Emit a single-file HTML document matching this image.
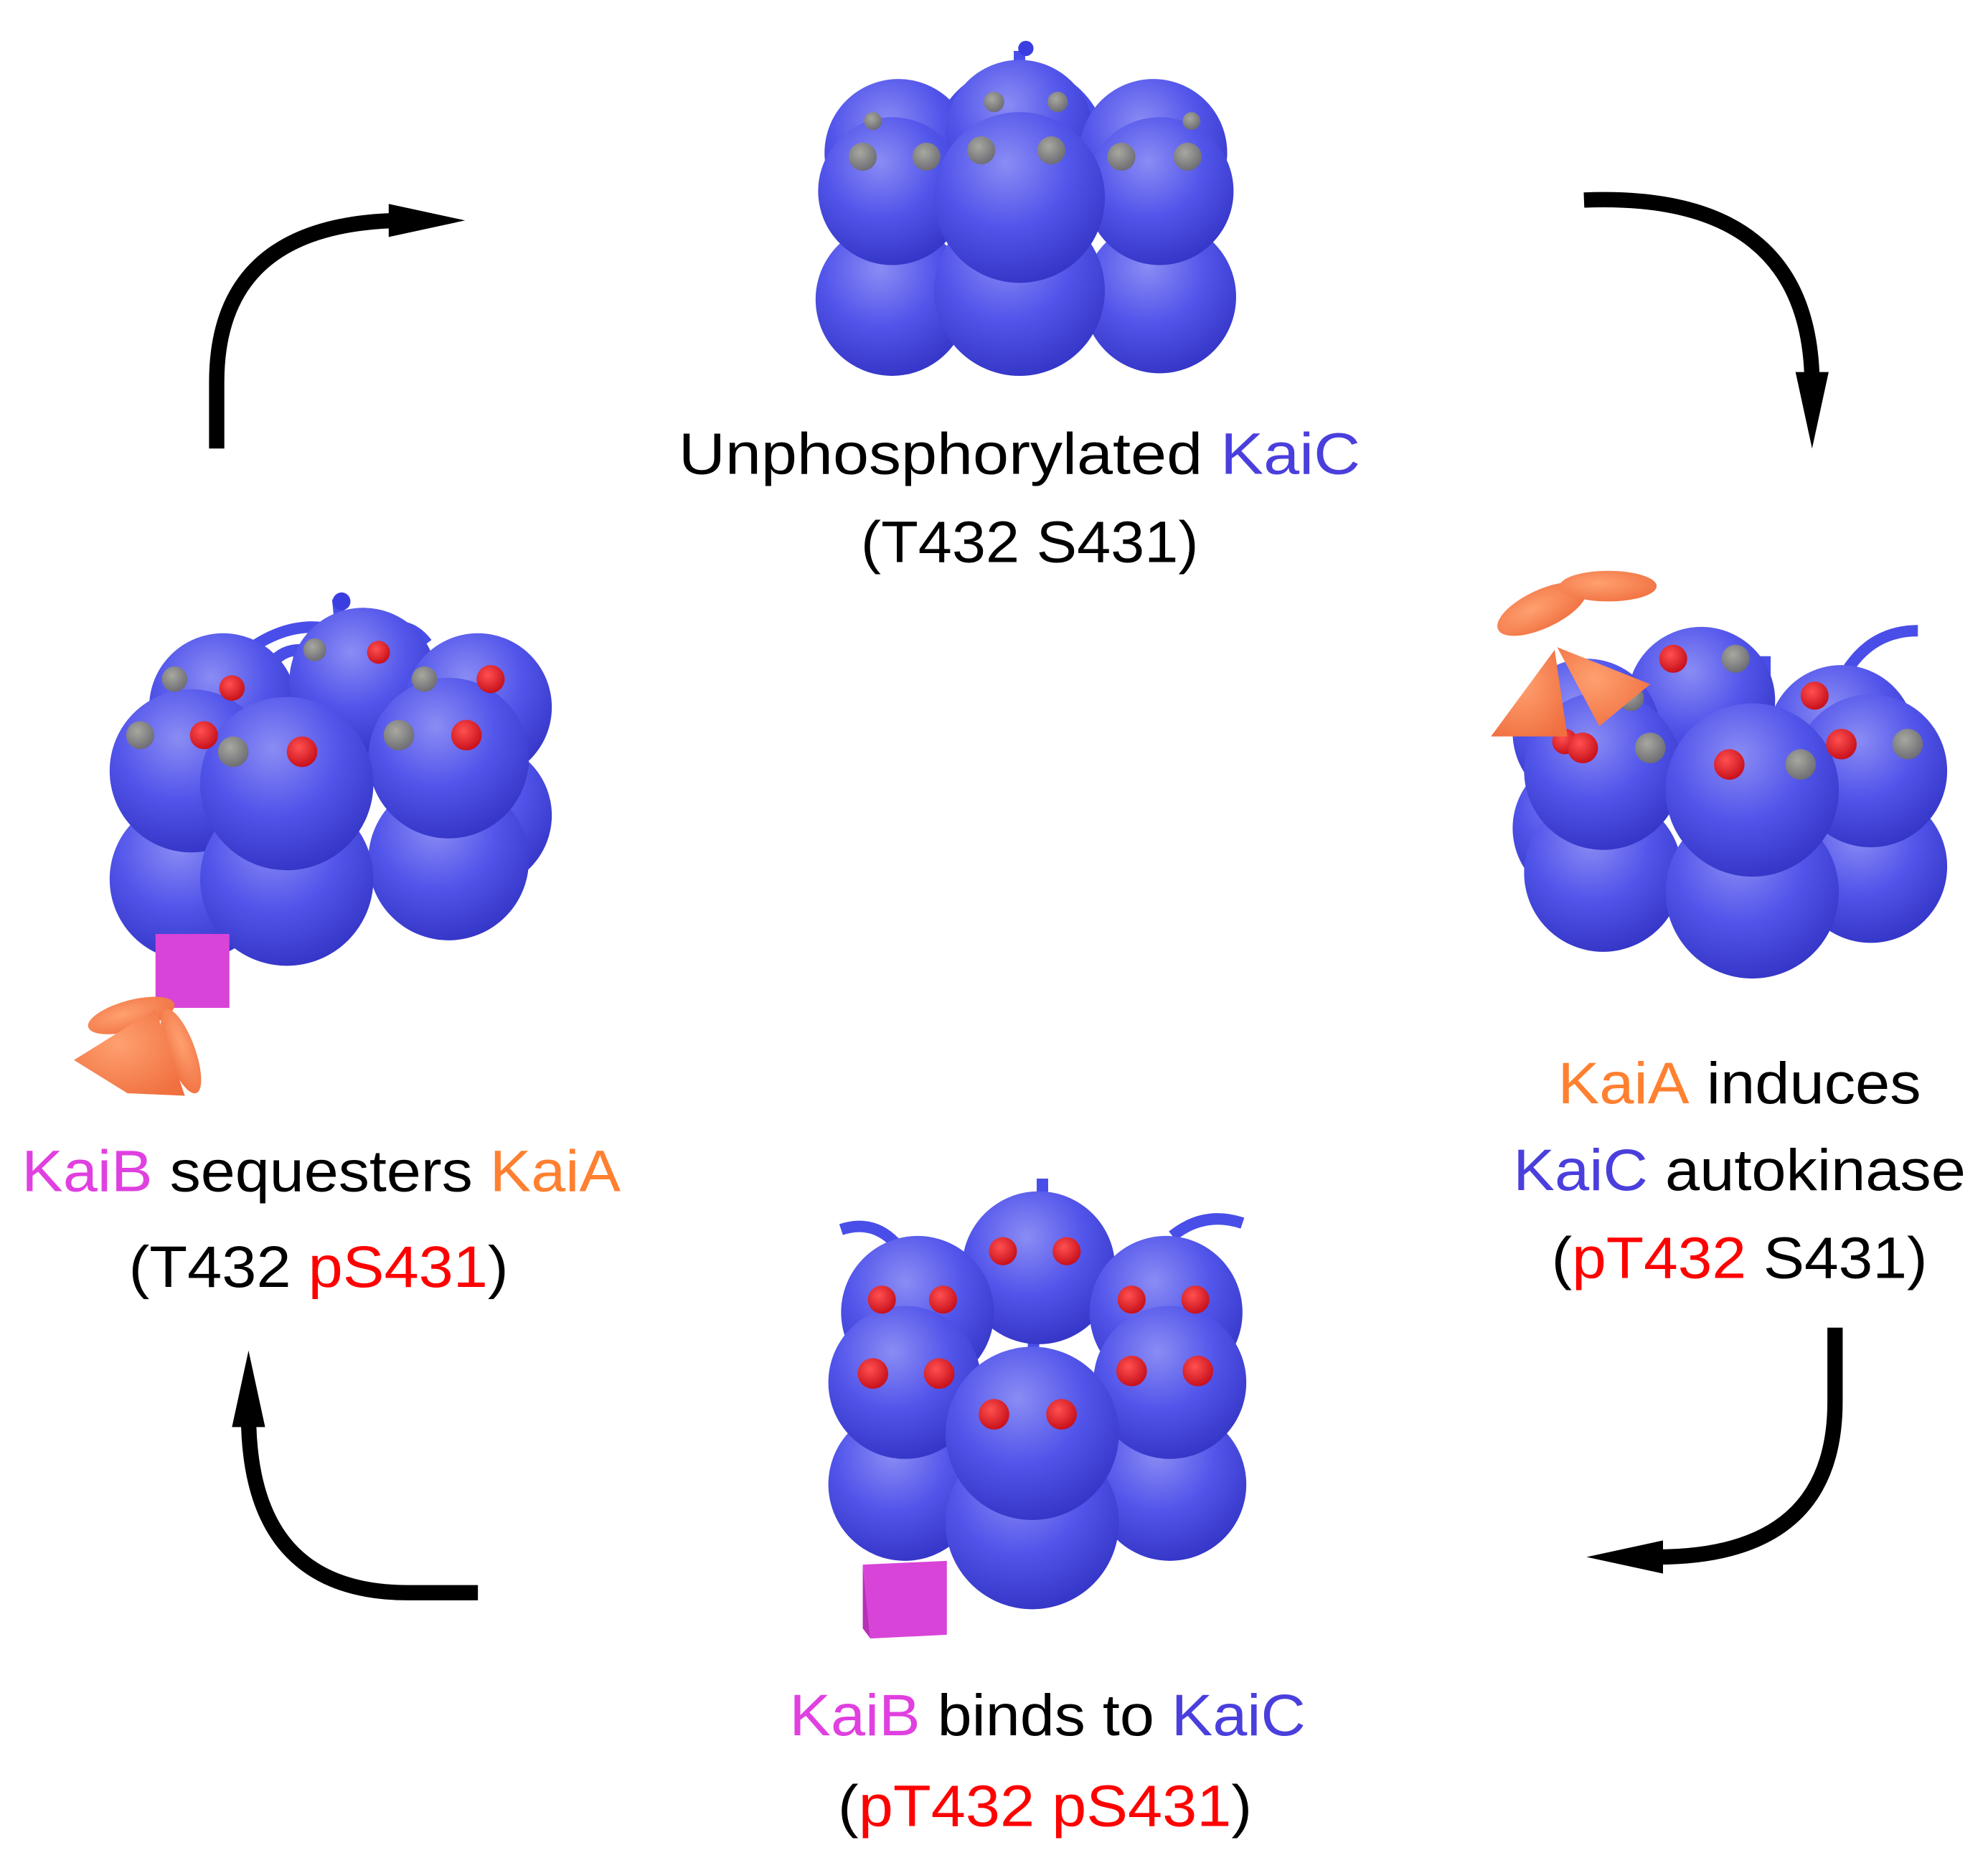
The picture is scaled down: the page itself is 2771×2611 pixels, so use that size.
<!DOCTYPE html>
<html><head><meta charset="utf-8"><style>html,body{margin:0;padding:0;background:#fff}svg{display:block}</style></head>
<body>
<svg width="2771" height="2611" viewBox="0 0 1560 1470" xmlns="http://www.w3.org/2000/svg">
<defs>
<radialGradient id="b" cx="0.42" cy="0.3" r="0.75">
<stop offset="0" stop-color="#8a8cf4"/><stop offset="0.5" stop-color="#5255ea"/><stop offset="1" stop-color="#3233c4"/>
</radialGradient>
<radialGradient id="r" cx="0.4" cy="0.35" r="0.7"><stop offset="0" stop-color="#ff5050"/><stop offset="1" stop-color="#c40c18"/></radialGradient>
<radialGradient id="g" cx="0.4" cy="0.35" r="0.7"><stop offset="0" stop-color="#a8a8a0"/><stop offset="1" stop-color="#6a6a72"/></radialGradient>
<radialGradient id="o" cx="0.4" cy="0.4" r="0.7"><stop offset="0" stop-color="#ffa070"/><stop offset="1" stop-color="#f07040"/></radialGradient>
</defs>
<g font-family="'Liberation Sans', sans-serif" font-size="46" text-anchor="middle">
<text x="800" y="372" textLength="535" lengthAdjust="spacingAndGlyphs">Unphosphorylated <tspan fill="#4a3fdc">KaiC</tspan></text>
<text x="808" y="441" textLength="265" lengthAdjust="spacingAndGlyphs">(T432 S431)</text>
<text x="1365" y="866" textLength="285" lengthAdjust="spacingAndGlyphs"><tspan fill="#ff8030">KaiA</tspan> induces</text>
<text x="1365" y="934" textLength="355" lengthAdjust="spacingAndGlyphs"><tspan fill="#4a3fdc">KaiC</tspan> autokinase</text>
<text x="1365" y="1003" textLength="295" lengthAdjust="spacingAndGlyphs">(<tspan fill="#ff0000">pT432</tspan> S431)</text>
<text x="252" y="935" textLength="470" lengthAdjust="spacingAndGlyphs"><tspan fill="#e040e0">KaiB</tspan> sequesters <tspan fill="#ff8030">KaiA</tspan></text>
<text x="250" y="1010" textLength="298" lengthAdjust="spacingAndGlyphs">(T432 <tspan fill="#ff0000">pS431</tspan>)</text>
<text x="822" y="1362" textLength="405" lengthAdjust="spacingAndGlyphs"><tspan fill="#e040e0">KaiB</tspan> binds to <tspan fill="#4a3fdc">KaiC</tspan></text>
<text x="820" y="1433" textLength="325" lengthAdjust="spacingAndGlyphs">(<tspan fill="#ff0000">pT432 pS431</tspan>)</text>
</g>
<!-- arrows -->
<g fill="none" stroke="#000" stroke-width="12">
<path d="M170 352 L170 300 Q170 175 315 173"/>
<path d="M1243 157 Q1420 150 1422 300"/>
<path d="M1440 1042 L1440 1100 Q1440 1222 1300 1222"/>
<path d="M375 1250 L320 1250 Q195 1250 195 1110"/>
</g>
<g fill="#000">
<polygon points="365,173 305,160 305,186"/>
<polygon points="1422,352 1409,292 1435,292"/>
<polygon points="1245,1222 1305,1209 1305,1235"/>
<polygon points="195,1060 182,1120 208,1120"/>
</g>
<!-- top cluster -->
<g fill="url(#b)">
<path d="M800 40 L800 90" stroke="#4a4ee8" stroke-width="9" fill="none"/>
<circle cx="805" cy="38" r="6" fill="#3a3ee0"/>
<path d="M740 95 Q760 55 800 60 Q840 55 860 95" stroke="#4a4ee8" stroke-width="9" fill="none"/>
<circle cx="705" cy="120" r="58"/><circle cx="800" cy="105" r="58"/><circle cx="905" cy="120" r="58"/>
<circle cx="700" cy="235" r="60"/><circle cx="910" cy="233" r="60"/>
<circle cx="700" cy="150" r="58"/><circle cx="910" cy="150" r="58"/>
<circle cx="800" cy="228" r="67"/><circle cx="800" cy="155" r="67"/>
</g>
<g fill="url(#g)"><circle cx="677" cy="123" r="11"/><circle cx="727" cy="123" r="11"/><circle cx="770" cy="118" r="11"/><circle cx="825" cy="118" r="11"/><circle cx="880" cy="123" r="11"/><circle cx="932" cy="123" r="11"/><circle cx="780" cy="80" r="8"/><circle cx="830" cy="80" r="8"/><circle cx="685" cy="95" r="7"/><circle cx="935" cy="95" r="7"/></g>
<!-- right cluster -->
<g fill="url(#b)">
<path d="M1290 545 Q1300 505 1335 505 M1385 515 L1385 560 M1440 545 Q1460 495 1505 495" stroke="#4a4ee8" stroke-width="9" fill="none"/>
<circle cx="1335" cy="550" r="58"/><circle cx="1245" cy="575" r="58"/><circle cx="1445" cy="580" r="58"/>
<circle cx="1245" cy="650" r="58"/>
<circle cx="1468" cy="680" r="60"/><circle cx="1468" cy="605" r="60"/>
<circle cx="1258" cy="685" r="62"/><circle cx="1258" cy="605" r="62"/>
<circle cx="1375" cy="700" r="68"/><circle cx="1375" cy="620" r="68"/>
</g>
<g><circle cx="1313" cy="517" r="11" fill="url(#r)"/><circle cx="1362" cy="517" r="11" fill="url(#g)"/><circle cx="1424" cy="546" r="11" fill="url(#r)"/><circle cx="1228" cy="582" r="10" fill="url(#r)"/><circle cx="1280" cy="548" r="10" fill="url(#g)"/>
<circle cx="1242" cy="587" r="12" fill="url(#r)"/><circle cx="1295" cy="587" r="12" fill="url(#g)"/><circle cx="1357" cy="600" r="12" fill="url(#r)"/><circle cx="1413" cy="600" r="12" fill="url(#g)"/><circle cx="1445" cy="584" r="12" fill="url(#r)"/><circle cx="1497" cy="584" r="12" fill="url(#g)"/></g>
<g fill="url(#o)">
<ellipse cx="1210" cy="478" rx="38" ry="15" transform="rotate(-25 1210 478)"/>
<ellipse cx="1262" cy="460" rx="38" ry="12"/>
<polygon points="1170,578 1230,578 1220,510"/>
<polygon points="1222,508 1295,537 1255,570"/>
</g>
<!-- bottom cluster -->
<g fill="url(#b)">
<path d="M818 925 L818 950 M660 965 Q690 955 710 985 M920 970 Q945 950 975 960 M945 1000 L945 1030 M811 1020 L811 1060" stroke="#4a4ee8" stroke-width="9" fill="none"/>
<circle cx="815" cy="995" r="60"/>
<circle cx="720" cy="1030" r="60"/><circle cx="915" cy="1030" r="60"/>
<circle cx="710" cy="1165" r="60"/><circle cx="710" cy="1085" r="60"/>
<circle cx="918" cy="1165" r="60"/><circle cx="918" cy="1085" r="60"/>
<circle cx="810" cy="1195" r="68"/><circle cx="810" cy="1125" r="68"/>
</g>
<g fill="url(#r)"><circle cx="787" cy="982" r="11"/><circle cx="837" cy="982" r="11"/><circle cx="692" cy="1020" r="11"/><circle cx="740" cy="1020" r="11"/><circle cx="888" cy="1020" r="11"/><circle cx="938" cy="1020" r="11"/><circle cx="685" cy="1078" r="12"/><circle cx="737" cy="1078" r="12"/><circle cx="888" cy="1076" r="12"/><circle cx="940" cy="1076" r="12"/><circle cx="780" cy="1110" r="12"/><circle cx="833" cy="1110" r="12"/></g>
<polygon points="677,1228 743,1225 743,1283 683,1286" fill="#d844d8"/>
<polygon points="677,1228 683,1286 677,1278" fill="#b830b8"/>
<!-- left cluster -->
<g fill="url(#b)">
<path d="M195 510 Q230 485 265 495 M265 470 L268 500 M295 495 Q320 485 335 505 M200 550 Q210 510 235 510 L232 545" stroke="#4a4ee8" stroke-width="9" fill="none"/>
<circle cx="268" cy="472" r="7" fill="#3a3ee0"/>
<circle cx="175" cy="555" r="58"/><circle cx="285" cy="535" r="58"/><circle cx="375" cy="555" r="58"/>
<circle cx="375" cy="640" r="58"/>
<circle cx="150" cy="690" r="64"/><circle cx="150" cy="605" r="64"/>
<circle cx="352" cy="675" r="63"/><circle cx="352" cy="595" r="63"/>
<circle cx="225" cy="690" r="68"/><circle cx="225" cy="615" r="68"/>
</g>
<g><circle cx="137" cy="533" r="10" fill="url(#g)"/><circle cx="182" cy="540" r="10" fill="url(#r)"/><circle cx="297" cy="512" r="9" fill="url(#r)"/><circle cx="333" cy="533" r="10" fill="url(#g)"/><circle cx="385" cy="533" r="11" fill="url(#r)"/><circle cx="247" cy="510" r="9" fill="url(#g)"/>
<circle cx="110" cy="577" r="11" fill="url(#g)"/><circle cx="160" cy="577" r="11" fill="url(#r)"/><circle cx="183" cy="590" r="12" fill="url(#g)"/><circle cx="237" cy="590" r="12" fill="url(#r)"/><circle cx="313" cy="577" r="12" fill="url(#g)"/><circle cx="366" cy="577" r="12" fill="url(#r)"/></g>
<rect x="122" y="733" width="58" height="58" fill="#d844d8"/>
<g fill="url(#o)">
<ellipse cx="103" cy="797" rx="35" ry="12" transform="rotate(-15 103 797)"/>
<ellipse cx="142" cy="825" rx="35" ry="11" transform="rotate(70 142 825)"/>
<polygon points="122,792 58,832 100,858 145,860"/>
</g>
</svg>
</body></html>
